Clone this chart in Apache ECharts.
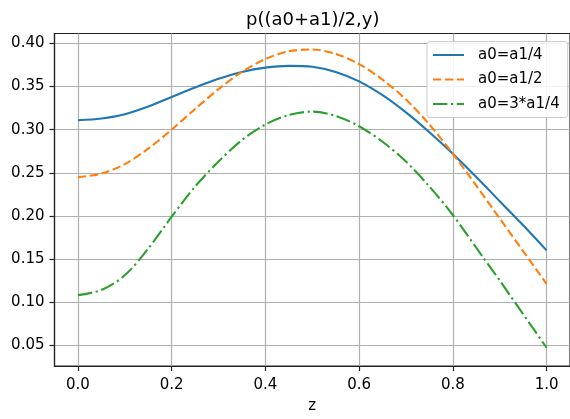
<!DOCTYPE html>
<html>
<head>
<meta charset="utf-8">
<script src="https://cdn.jsdelivr.net/npm/echarts@6/dist/echarts.min.js"></script>
<style>html,body{margin:0;padding:0;background:#fff}#c{width:570px;height:419px}</style>
</head>
<body>
<div id="c"></div>
<script>
const titleText = 'p((a0+a1)/2,y)';
const xName = 'z';
const seriesNames = ['a0=a1/4', 'a0=a1/2', 'a0=3*a1/4'];
const zs = [0, 0.05, 0.1, 0.15, 0.2, 0.25, 0.3, 0.35, 0.4, 0.45, 0.5, 0.55, 0.6, 0.65, 0.7, 0.75, 0.8, 0.85, 0.9, 0.95, 1.0];
const blue = [0.311, 0.313, 0.318, 0.327, 0.338, 0.349, 0.359, 0.367, 0.372, 0.374, 0.373, 0.367, 0.356, 0.340, 0.320, 0.297, 0.272, 0.245, 0.217, 0.189, 0.160];
const orange = [0.245, 0.249, 0.260, 0.278, 0.300, 0.324, 0.347, 0.367, 0.382, 0.391, 0.393, 0.388, 0.376, 0.358, 0.335, 0.306, 0.272, 0.235, 0.197, 0.159, 0.121];
const green = [0.108, 0.114, 0.131, 0.162, 0.199, 0.234, 0.263, 0.288, 0.306, 0.317, 0.321, 0.316, 0.304, 0.286, 0.263, 0.234, 0.201, 0.163, 0.125, 0.086, 0.047];
const xTicks = [0, 0.2, 0.4, 0.6, 0.8, 1.0];
const yTicks = [0.05, 0.10, 0.15, 0.20, 0.25, 0.30, 0.35, 0.40];

const pairs = ys => zs.map((z, i) => [z, ys[i]]);
const font = 'DejaVu Sans';
const chart = echarts.init(document.getElementById('c'), null, {renderer: 'canvas'});
chart.setOption({
  animation: false,
  backgroundColor: '#fff',
  title: {text: titleText, left: 246, top: 11, padding: 0,
    textStyle: {fontFamily: font, fontSize: 18, fontWeight: 'normal', color: '#000'}},
  grid: {left: 54.5, top: 33.5, width: 519, height: 339.5, show: true, borderColor: '#222', borderWidth: 1.2},
  legend: {
    orient: 'vertical', left: 427, top: 41.5, padding: [6, 8, 6, 5],
    itemWidth: 31, itemHeight: 14, itemGap: 9.5,
    itemStyle: {opacity: 0},
    backgroundColor: 'rgba(255,255,255,0.85)', borderColor: '#cccccc', borderWidth: 1, borderRadius: 3,
    textStyle: {fontFamily: font, fontSize: 15, color: '#000', padding: [0, 0, 0, 9]},
    data: seriesNames
  },
  xAxis: {
    type: 'value', min: -0.05, max: 1.05,
    name: xName, nameLocation: 'middle', nameGap: 33,
    nameTextStyle: {fontFamily: font, fontSize: 15, color: '#000'},
    axisLine: {show: true, onZero: false, lineStyle: {color: '#222', width: 1.2}},
    axisTick: {show: true, customValues: xTicks, length: 5, lineStyle: {color: '#222', width: 1.2}},
    axisLabel: {customValues: xTicks, margin: 12, fontFamily: font, fontSize: 15, color: '#000',
      formatter: v => v.toFixed(1)},
    splitLine: {show: true, lineStyle: {color: '#b0b0b0', width: 1.2}}
  },
  yAxis: {
    type: 'value', min: 0.0258, max: 0.4116,
    axisLine: {show: true, onZero: false, lineStyle: {color: '#222', width: 1.2}},
    axisTick: {show: true, customValues: yTicks, length: 5, lineStyle: {color: '#222', width: 1.2}},
    axisLabel: {customValues: yTicks, margin: 10, fontFamily: font, fontSize: 15, color: '#000',
      formatter: v => v.toFixed(2)},
    splitLine: {show: true, lineStyle: {color: '#b0b0b0', width: 1.2}}
  },
  series: [
    {name: seriesNames[0], type: 'line', data: pairs(blue), smooth: 0.3, showSymbol: false, symbol: 'none',
      color: '#1f77b4', lineStyle: {width: 2.1, color: '#1f77b4', type: 'solid'}},
    {name: seriesNames[1], type: 'line', data: pairs(orange), smooth: 0.3, showSymbol: false, symbol: 'none',
      color: '#ff7f0e', lineStyle: {width: 2.1, color: '#ff7f0e', type: [8.3, 3.6]}},
    {name: seriesNames[2], type: 'line', data: pairs(green), smooth: 0.3, showSymbol: false, symbol: 'none',
      color: '#2ca02c', lineStyle: {width: 2.1, color: '#2ca02c', type: [14.4, 3.6, 2.2, 3.6]}}
  ]
});
</script>
</body>
</html>
